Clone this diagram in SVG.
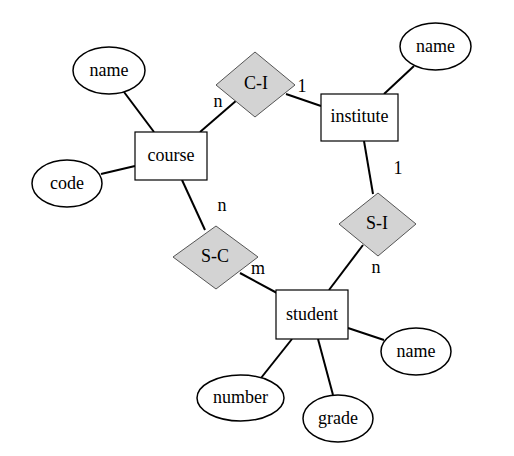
<svg xmlns="http://www.w3.org/2000/svg" width="514" height="456" viewBox="0 0 514 456">
<style>
text{font-family:"Liberation Serif","Times New Roman",serif;font-size:18px;fill:#000;text-anchor:middle}
.ent{fill:#fff;stroke:#000;stroke-width:1.2}
.att{fill:#fff;stroke:#000;stroke-width:1.5}
.rel{fill:#d3d3d3;stroke:#555;stroke-width:1}
.edges line{stroke:#000;stroke-width:2}
</style>
<rect width="514" height="456" fill="#fff"/>
<g class="edges" id="connectors">
<line x1="124" y1="92" x2="154" y2="132"/>
<line x1="101" y1="174" x2="135" y2="166"/>
<line x1="200" y1="132" x2="237" y2="100"/>
<line x1="286" y1="94" x2="321" y2="106"/>
<line x1="414" y1="66" x2="384" y2="94"/>
<line x1="364" y1="141" x2="373" y2="194"/>
<line x1="182" y1="180" x2="205" y2="230"/>
<line x1="240" y1="273" x2="277" y2="293"/>
<line x1="363" y1="245" x2="329" y2="290"/>
<line x1="348" y1="328" x2="384" y2="340"/>
<line x1="318" y1="339" x2="333" y2="395"/>
<line x1="292" y1="339" x2="261" y2="378"/>
</g>
<g id="course"><rect class="ent" x="135" y="132" width="72" height="48"/><text x="171" y="161">course</text></g>
<g id="institute"><rect class="ent" x="321" y="94" width="77" height="47"/><text x="359.5" y="122">institute</text></g>
<g id="student"><rect class="ent" x="276" y="290" width="72" height="49"/><text x="312" y="320">student</text></g>
<g id="C-I"><polygon class="rel" points="216,85 255,52 295,85 255,117"/><text x="256" y="89">C-I</text></g>
<g id="S-C"><polygon class="rel" points="173,257 216,226 258,257 216,289"/><text x="215" y="262">S-C</text></g>
<g id="S-I"><polygon class="rel" points="339,224 378,193 416,224 378,256"/><text x="377" y="229">S-I</text></g>
<g id="course-name"><ellipse class="att" cx="109" cy="70.5" rx="36" ry="23.5"/><text x="109" y="76">name</text></g>
<g id="course-code"><ellipse class="att" cx="67" cy="183.5" rx="35" ry="23.5"/><text x="67" y="189">code</text></g>
<g id="institute-name"><ellipse class="att" cx="435.5" cy="46.5" rx="35.5" ry="23.5"/><text x="435.5" y="52">name</text></g>
<g id="student-name"><ellipse class="att" cx="416" cy="351.5" rx="35" ry="23.5"/><text x="416" y="357">name</text></g>
<g id="student-grade"><ellipse class="att" cx="338" cy="418.5" rx="35" ry="23.5"/><text x="338" y="424">grade</text></g>
<g id="student-number"><ellipse class="att" cx="240.5" cy="398" rx="43.5" ry="23"/><text x="240.5" y="403">number</text></g>
<g id="labels">
<text x="218" y="107">n</text>
<text x="302" y="92">1</text>
<text x="222" y="211">n</text>
<text x="398" y="174">1</text>
<text x="258" y="274">m</text>
<text x="376" y="273">n</text>
</g>
</svg>
